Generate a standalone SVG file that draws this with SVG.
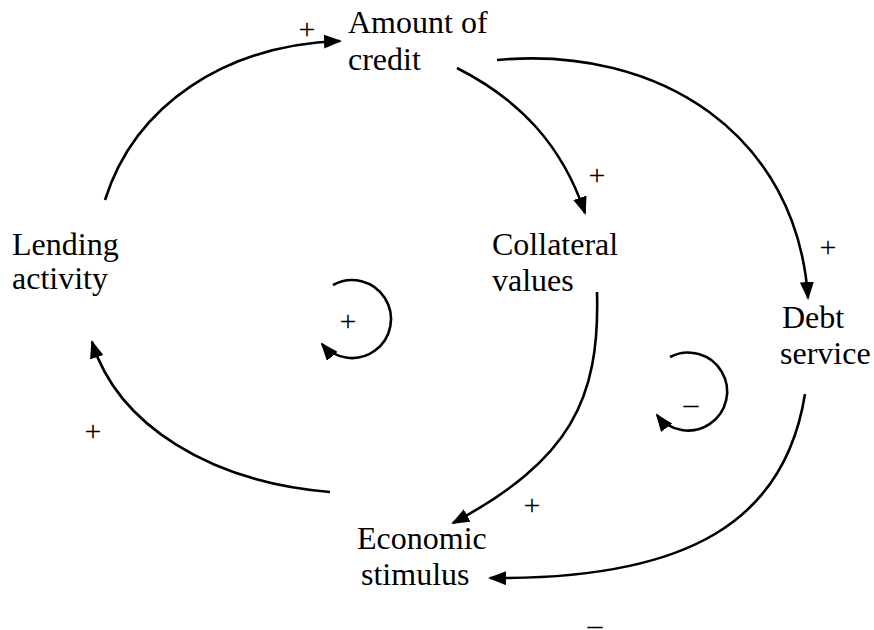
<svg xmlns="http://www.w3.org/2000/svg" width="874" height="630" viewBox="0 0 874 630">
<style>
text{font-family:"Liberation Serif","Times New Roman",serif;font-size:32px;fill:#000}
.sign{font-size:30px;text-anchor:middle}
.c{fill:none;stroke:#000;stroke-width:2.6}
</style>
<defs>
<marker id="ah" viewBox="0 0 18 14" refX="16" refY="7" markerWidth="18" markerHeight="14" markerUnits="userSpaceOnUse" orient="auto">
<path d="M0,0 L18,7 L0,14 Z" fill="#000"/>
</marker>
</defs>
<rect width="874" height="630" fill="#fff"/>
<g id="connectors">
<path class="c" marker-end="url(#ah)" d="M105,200 C135,105 225,45 340,41"/>
<path class="c" marker-end="url(#ah)" d="M457,68 C520,100 562,145 585,213"/>
<path class="c" marker-end="url(#ah)" d="M497,60 C660,45 797,135 808,298"/>
<path class="c" marker-end="url(#ah)" d="M597,292 C600,400 570,460 453,523"/>
<path class="c" marker-end="url(#ah)" d="M805,394 C785,520 690,580 490,578"/>
<path class="c" marker-end="url(#ah)" d="M330,492 C210,482 118,425 92,342"/>
</g>
<g id="loop-reinforcing">
<path class="c" marker-end="url(#ah)" d="M333,285 A39,39 0 1 1 322,344"/>
<text class="sign" x="348" y="331">+</text>
</g>
<g id="loop-balancing">
<path class="c" marker-end="url(#ah)" d="M670,357 A39,39 0 1 1 657,415"/>
<text class="sign" x="691" y="414">–</text>
</g>
<g id="node-amount"><text x="348" y="33">Amount of</text><text x="348" y="70">credit</text></g>
<g id="node-lending"><text x="12" y="255">Lending</text><text x="12" y="289">activity</text></g>
<g id="node-collateral"><text x="492" y="255">Collateral</text><text x="492" y="291">values</text></g>
<g id="node-debt"><text x="782" y="328">Debt</text><text x="780" y="364">service</text></g>
<g id="node-economic"><text x="357" y="549">Economic</text><text x="361" y="585">stimulus</text></g>
<g id="polarities">
<text class="sign" x="307" y="39">+</text>
<text class="sign" x="597" y="185">+</text>
<text class="sign" x="828" y="257">+</text>
<text class="sign" x="93" y="441">+</text>
<text class="sign" x="532" y="515">+</text>
<text class="sign" x="595" y="635">–</text>
</g>
</svg>
